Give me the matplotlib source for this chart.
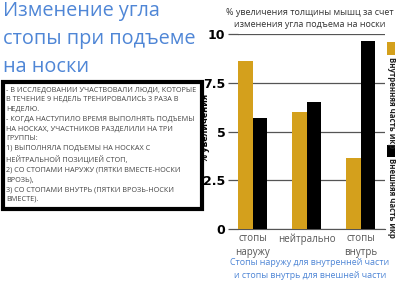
import matplotlib.pyplot as plt
import matplotlib.patches as patches
import numpy as np

plt.rcParams['font.family'] = ['Open Sans', 'DejaVu Sans']

# dati
groups = ["стопы\nнаружу", "нейтрально", "стопы\nвнутрь"]
inner = [8.6, 6.0, 3.65]   # внутренняя часть икр
outer = [5.7, 6.5, 9.65]   # внешняя часть икр
yticks = [2.5, 5, 7.5, 10]
legend_labels = ["Внутренняя часть икр", "Внешняя часть икр"]

gold = '#d4a01c'
blue = '#4f86d6'

fig = plt.figure(figsize=(4.0, 2.81), dpi=100)
ax = fig.add_axes([0.595, 0.185, 0.3675, 0.694])

x = np.arange(len(groups))
w = 0.27
ax.bar(x - w / 2, inner, w, color=gold, zorder=3)
ax.bar(x + w / 2, outer, w, color='black', zorder=3)

ax.set_xlim(-0.27, 2.45)
ax.set_ylim(0, 10)
ax.set_yticks([0] + yticks)
ax.set_yticklabels(['0', '2.5', '5', '7.5', '10'], fontweight='bold', fontsize=9, family='DejaVu Sans')
ax.yaxis.grid(True, color='#555555', lw=0.9, zorder=0)
ax.set_axisbelow(True)
ax.tick_params(axis='y', length=7, color='#555555', width=0.9, pad=2)
ax.set_xticks(x)
ax.set_xticklabels(groups, fontsize=7, color='#555555', linespacing=1.35)
ax.tick_params(axis='x', length=0, pad=3)
for s in ['top', 'right', 'left']:
    ax.spines[s].set_visible(False)
ax.spines['bottom'].set_color('#555555')
ax.set_ylabel("% увеличения", fontsize=6.5, fontweight='bold')
ax.yaxis.set_label_coords(-0.19, 0.52)

# titolo del grafico
fig.text(0.775, 0.935, "% увеличения толщины мышц за счет\nизменения угла подъема на носки",
         ha='center', va='center', fontsize=6.5, color='#333333', linespacing=1.5)

# legenda verticale
fig.patches.append(patches.Rectangle((0.967, 0.804), 0.021, 0.047, transform=fig.transFigure,
                                     facecolor=gold, edgecolor='none'))
fig.text(0.979, 0.797, legend_labels[0], rotation=-90, ha='center', va='top',
         fontsize=5.7, fontweight='bold', color='#222222')
fig.patches.append(patches.Rectangle((0.967, 0.441), 0.021, 0.043, transform=fig.transFigure,
                                     facecolor='black', edgecolor='none'))
fig.text(0.979, 0.436, legend_labels[1], rotation=-90, ha='center', va='top',
         fontsize=5.7, fontweight='bold', color='#222222')

# didascalia blu
fig.text(0.775, 0.043, "Стопы наружу для внутренней части\nи стопы внутрь для внешней части",
         ha='center', va='center', fontsize=6.4, color=blue, linespacing=1.55)

# titolo a sinistra
fig.text(0.008, 0.998, "Изменение угла\nстопы при подъеме\nна носки", ha='left', va='top',
         fontsize=14.3, color=blue, linespacing=1.55)

# riquadro con il testo
fig.patches.append(patches.Rectangle((0.008, 0.255), 0.497, 0.452, transform=fig.transFigure,
                                     facecolor='white', edgecolor='black', lw=3))
box_text = ("- В ИССЛЕДОВАНИИ УЧАСТВОВАЛИ ЛЮДИ, КОТОРЫЕ\n"
            "В ТЕЧЕНИЕ 9 НЕДЕЛЬ ТРЕНИРОВАЛИСЬ 3 РАЗА В\n"
            "НЕДЕЛЮ.\n"
            "- КОГДА НАСТУПИЛО ВРЕМЯ ВЫПОЛНЯТЬ ПОДЪЕМЫ\n"
            "НА НОСКАХ, УЧАСТНИКОВ РАЗДЕЛИЛИ НА ТРИ\n"
            "ГРУППЫ:\n"
            "1) ВЫПОЛНЯЛА ПОДЪЕМЫ НА НОСКАХ С\n"
            "НЕЙТРАЛЬНОЙ ПОЗИЦИЕЙ СТОП,\n"
            "2) СО СТОПАМИ НАРУЖУ (ПЯТКИ ВМЕСТЕ-НОСКИ\n"
            "ВРОЗЬ),\n"
            "3) СО СТОПАМИ ВНУТРЬ (ПЯТКИ ВРОЗЬ-НОСКИ\n"
            "ВМЕСТЕ).")
fig.text(0.016, 0.693, box_text, ha='left', va='top', fontsize=5.2, color='#444444',
         linespacing=1.55)

fig.savefig('out.png', dpi=100)
